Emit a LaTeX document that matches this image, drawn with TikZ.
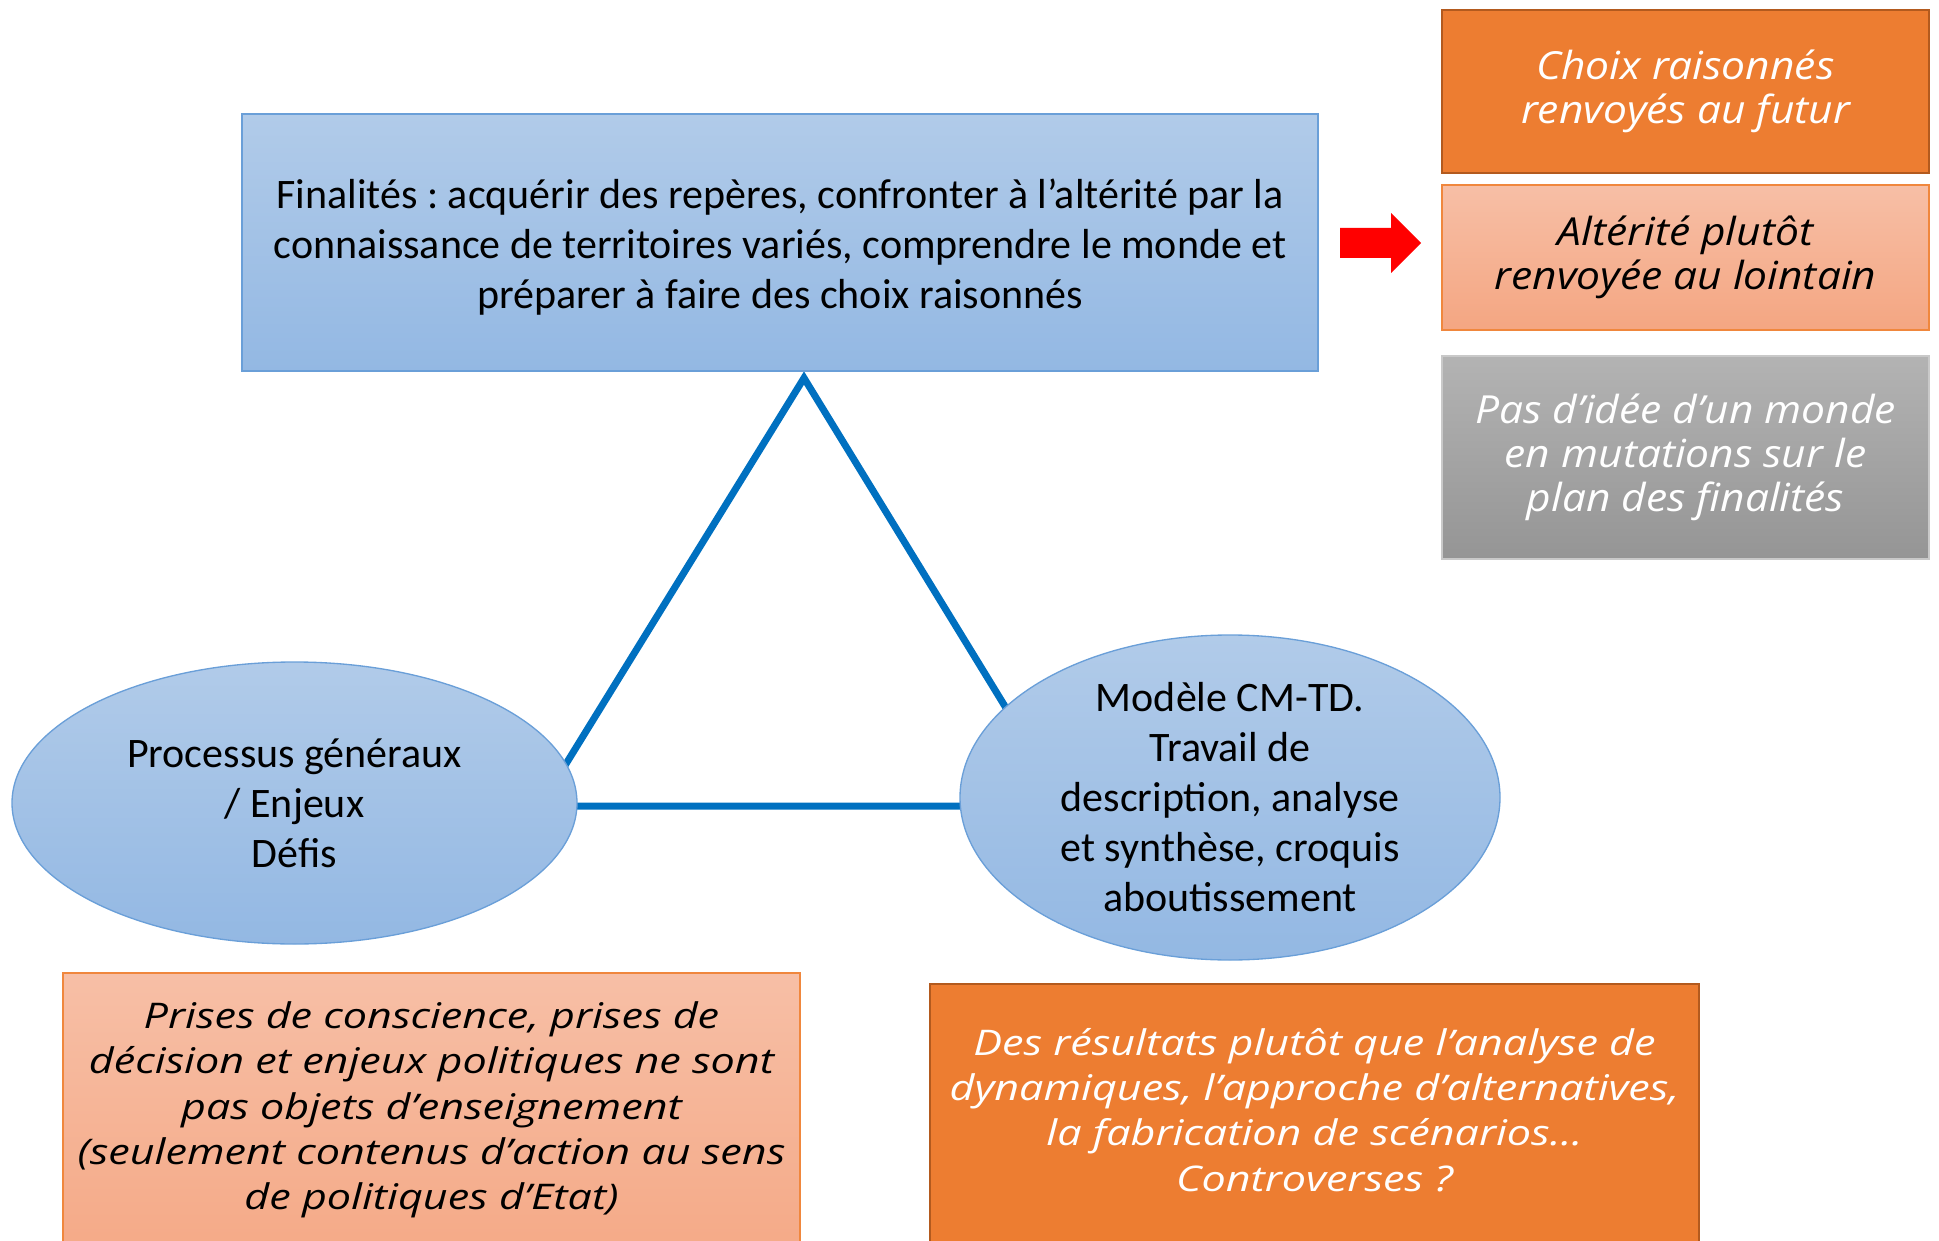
\documentclass[tikz,border=0pt]{standalone}
\usepackage{fontspec}
\setmainfont{Carlito}
\newfontfamily\handa{Open Sans}[FakeStretch=1.1]
\newfontfamily\handb{Open Sans}[FakeStretch=1.22]
\usetikzlibrary{shapes.geometric}
\definecolor{bluetop}{HTML}{B1CBE9}
\definecolor{bluebot}{HTML}{93B8E3}
\definecolor{bluebd}{HTML}{6A9FD8}
\definecolor{orangefill}{HTML}{ED7D31}
\definecolor{orangebd}{HTML}{B35A1E}
\definecolor{salmontop}{HTML}{F7BFA6}
\definecolor{salmonbot}{HTML}{F4A682}
\definecolor{salmonbd}{HTML}{F0873D}
\definecolor{graytop}{HTML}{B3B3B3}
\definecolor{graybot}{HTML}{959595}
\definecolor{graybd}{HTML}{C9C9C9}
\definecolor{tri}{HTML}{0070C0}
\tikzset{
  bluebox/.style={draw=bluebd, line width=1pt, top color=bluetop, bottom color=bluebot, inner sep=0pt},
  orangebox/.style={draw=orangebd, line width=1.5pt, fill=orangefill, inner sep=0pt},
  salmonbox/.style={draw=salmonbd, line width=1pt, top color=salmontop, bottom color=salmonbot, inner sep=0pt},
  graybox/.style={draw=graybd, line width=1.5pt, top color=graytop, bottom color=graybot, inner sep=0pt},
  maintext/.style={font=\frenchspacing\fontsize{31.5pt}{37.5pt}\selectfont, align=center},
  handtext/.style={font=\frenchspacing\handa\itshape\fontsize{29pt}{33pt}\selectfont, align=center},
  handsmall/.style={font=\frenchspacing\handb\itshape\fontsize{26.5pt}{34pt}\selectfont, align=center},
  triline/.style={draw=tri, line width=5.25pt},
}
\begin{document}
\begin{tikzpicture}[x=0.75pt,y=-0.75pt]
\useasboundingbox (0,0) rectangle (1939,1241);
\clip (0,0) rectangle (1939,1241);
% triangle (beneath everything)
\coordinate (apex) at (804,378);
\coordinate (lv) at (540,806);
\coordinate (rv) at (1066,806);
\draw[triline, line join=miter] (apex) -- (lv) -- (rv) -- cycle;
% top box
\node[bluebox, minimum width=807pt, minimum height=192.75pt] (fin) at (780,242.5) {};
\node[maintext] (fintxt) at (780,247.5)
  {Finalités : acquérir des repères, confronter à l’altérité par la\\
   connaissance de territoires variés, comprendre le monde et\\
   préparer à faire des choix raisonnés};
% ellipses
\node[ellipse, bluebox, maintext, minimum width=423.75pt, minimum height=211.5pt] (proc) at (294.5,803)
  {Processus généraux\\ / Enjeux\\ Défis};
\node[ellipse, bluebox, maintext, minimum width=405pt, minimum height=243.75pt] (mod) at (1230,797.5)
  {Modèle CM-TD.\\ Travail de\\ description, analyse\\ et synthèse, croquis\\ aboutissement};
% right column
\node[orangebox, handtext, text=white, minimum width=365.25pt, minimum height=122.25pt] (choix) at (1685.5,91.5)
  {Choix raisonnés\\ renvoyés au futur};
\node[salmonbox, handtext, text=black, minimum width=365.25pt, minimum height=108.75pt] (alt) at (1685.5,257.5)
  {Altérité plutôt\\ renvoyée au lointain};
\node[graybox, handtext, text=white, minimum width=365.25pt, minimum height=152.25pt] (pas) at (1685.5,457.5)
  {Pas d’idée d’un monde\\ en mutations sur le\\ plan des finalités};
% red arrow
\fill[red] (1340,228) -- (1391,228) -- (1391,213) -- (1421,243) -- (1391,273) -- (1391,258) -- (1340,258) -- cycle;
% bottom boxes
\node[salmonbox, minimum width=552.75pt, minimum height=245.25pt] (prises) at (431.5,1136.5) {};
\node[handsmall, text=black] (prisestxt) at (431.5,1110)
  {Prises de conscience, prises de\\ décision et enjeux politiques ne sont\\ pas objets d’enseignement\\ (seulement contenus d’action au sens\\ de politiques d’Etat)};
\node[orangebox, minimum width=576.75pt, minimum height=237pt] (res) at (1314.5,1142) {};
\node[handsmall, text=white] (restxt) at (1314.5,1110)
  {Des résultats plutôt que l’analyse de\\ dynamiques, l’approche d’alternatives,\\ la fabrication de scénarios…\\ Controverses ?};
\end{tikzpicture}
\end{document}
